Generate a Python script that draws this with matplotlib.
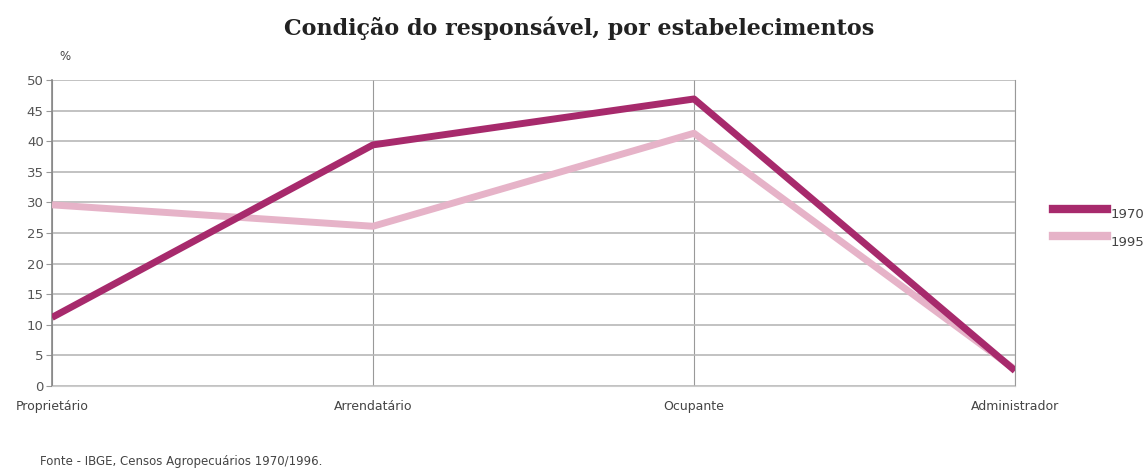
import numpy as np
import matplotlib.pyplot as plt

categorias = ['Proprietário', 'Arrendatário', 'Ocupante', 'Administrador']
v1970 = [11.2, 39.4, 46.9, 2.5]
v1995 = [29.6, 26.1, 41.3, 2.7]
yticks = [0, 5, 10, 15, 20, 25, 30, 35, 40, 45, 50]

fig = plt.figure(figsize=(11.45, 4.68), dpi=100)
ax = fig.add_axes([52/1145, 1-386/468, (1015-52)/1145, (386-80)/468])

x = np.arange(len(categorias))
ax.plot(x, v1995, color='#e6b3c8', lw=5.0, solid_capstyle='butt', zorder=3)
ax.plot(x, v1970, color='#a72a6c', lw=5.0, solid_capstyle='butt', zorder=4)

ax.set_xlim(0, 3)
ax.set_ylim(0, 50)
ax.set_yticks(yticks)
ax.set_xticks(x)
ax.set_xticklabels(categorias, fontsize=9, color='#444444')
ax.tick_params(axis='y', labelsize=9.5, labelcolor='#555555', length=4, color='#999999', pad=2)
ax.tick_params(axis='x', length=0, pad=10)
ax.grid(axis='y', color='#b8b8b8', lw=1.2)
ax.grid(axis='x', color='#999999', lw=0.8)
ax.axvline(3, color='#999999', lw=0.8, clip_on=False, zorder=1)
for s in ['top', 'right']:
    ax.spines[s].set_visible(False)
ax.spines['bottom'].set_color('#cccccc')
ax.spines['left'].set_color('#888888')
ax.spines['left'].set_linewidth(1.2)

fig.text(65/1145, 1-57/468, '%', fontsize=8.5, color='#444444', ha='center', va='center')
fig.text(579/1145, 1-28/468, 'Condição do responsável, por estabelecimentos',
         fontsize=16, fontweight='bold', family='DejaVu Serif', ha='center', va='center', color='#222222')
fig.text(40/1145, 1-461/468, 'Fonte - IBGE, Censos Agropecuários 1970/1996.',
         fontsize=8.5, color='#444444', ha='left', va='center')

# legenda fora do eixo
for y, cor, lab in [(209, '#a72a6c', '1970'), (236, '#e6b3c8', '1995')]:
    fig.add_artist(plt.Line2D([1053/1145, 1107/1145], [1-y/468, 1-y/468], color=cor, lw=6))
    fig.text(1111/1145, 1-(y+6)/468, lab, fontsize=9.5, color='#444444', ha='left', va='center')

fig.savefig('out.png', dpi=100)
